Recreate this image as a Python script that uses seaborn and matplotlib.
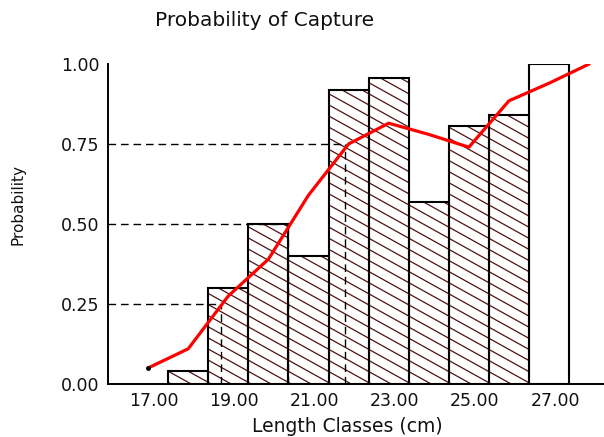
import numpy as np
import matplotlib
matplotlib.use("Agg")
import matplotlib.pyplot as plt
import matplotlib.hatch as mhatch
from matplotlib.path import Path
from matplotlib.ticker import FixedLocator, FormatStrFormatter
from matplotlib.transforms import ScaledTranslation
import seaborn as sns

# Observed proportion retained per 1 cm length class
length_classes = [18, 19, 20, 21, 22, 23, 24, 25, 26, 27]
observed = [0.04, 0.30, 0.50, 0.40, 0.92, 0.955, 0.57, 0.805, 0.84, 1.00]
open_class = 27  # class drawn without hatching

# Fitted probability-of-capture curve
curve_lengths = [17, 18, 19, 20, 21, 22, 23, 24, 25, 26, 27, 28]
curve_prob = [0.05, 0.11, 0.275, 0.39, 0.59, 0.75, 0.815, 0.78, 0.74, 0.885, 0.94, 1.00]

# Retention lengths L25, L50, L75
ret_levels = [0.25, 0.50, 0.75]
ret_lengths = [18.83, 20.50, 21.92]

x_ticks = [17, 19, 21, 23, 25, 27]
y_ticks = [0.00, 0.25, 0.50, 0.75, 1.00]

X_MIN, X_MAX = 16.0, 28.37
HATCH_COLOR = "#4e1414"


class ShallowSouthEastHatch(mhatch.HatchPatternBase):
    """Back-slash hatch drawn at a shallow slope (rise/run = 5/9)."""
    rise, per_unit = 5, 9

    def __init__(self, hatch, density):
        n = hatch.count("\\") + hatch.count("x") + hatch.count("X")
        self.num_lines = (self.per_unit + self.rise + 1) if n else 0
        self.num_vertices = self.num_lines * 2

    def set_vertices_and_codes(self, vertices, codes):
        b = np.arange(self.num_lines) / self.per_unit
        vertices[0::2, 0] = 0.0
        vertices[0::2, 1] = b
        vertices[1::2, 0] = 1.0
        vertices[1::2, 1] = b - self.rise / self.per_unit
        codes[0::2] = Path.MOVETO
        codes[1::2] = Path.LINETO


mhatch._hatch_types[mhatch._hatch_types.index(mhatch.SouthEastHatch)] = ShallowSouthEastHatch

sns.set_style("white")
plt.rcParams["font.family"] = ["DejaVu Sans"]
plt.rcParams["hatch.linewidth"] = 0.9

fig = plt.figure(figsize=(6.04, 4.37), dpi=100)
ax = fig.add_axes([108 / 604, 53 / 437, (604 - 108) / 604, 320 / 437])

# hatched fill layer
sns.barplot(x=length_classes, y=observed, native_scale=True, width=1,
            color="white", saturation=1, edgecolor=HATCH_COLOR, linewidth=0,
            hatch="\\", errorbar=None, ax=ax, zorder=1)
for patch in ax.patches:
    if abs(patch.get_x() + patch.get_width() / 2 - open_class) < 0.01:
        patch.set_hatch(None)

# bar outlines
sns.barplot(x=length_classes, y=observed, native_scale=True, width=1,
            color="black", fill=False, linewidth=1.5, errorbar=None, ax=ax,
            zorder=2)

# retention length guides
dash = (0, (5.5, 3.5))
ax.hlines(ret_levels, xmin=X_MIN, xmax=ret_lengths, colors="black",
          linestyles=dash, linewidth=1.0, zorder=2.5)
ax.vlines(ret_lengths, ymin=0, ymax=ret_levels, colors="black",
          linestyles=dash, linewidth=1.0, zorder=2.5)

# fitted curve
sns.lineplot(x=curve_lengths, y=curve_prob, color="red", linewidth=2.3,
             ax=ax, zorder=3)
ax.plot(curve_lengths[:1], curve_prob[:1], "o", color="black", ms=2.5, zorder=3.5)

ax.set_xlim(X_MIN, X_MAX)
ax.set_ylim(0, 1.0)
ax.xaxis.set_major_locator(FixedLocator(x_ticks))
ax.yaxis.set_major_locator(FixedLocator(y_ticks))
ax.xaxis.set_major_formatter(FormatStrFormatter("%.2f"))
ax.yaxis.set_major_formatter(FormatStrFormatter("%.2f"))
ax.tick_params(axis="both", direction="in", length=3, width=1.1,
               colors="black", labelsize=12.5, labelcolor="#111111")
ax.tick_params(axis="x", pad=6)
ax.tick_params(axis="y", pad=6)
for lab in ax.get_xticklabels():
    lab.set_transform(lab.get_transform() + ScaledTranslation(6 / 100, 0, fig.dpi_scale_trans))

for side in ("top", "right"):
    ax.spines[side].set_visible(False)
for side in ("left", "bottom"):
    ax.spines[side].set_linewidth(1.4)
    ax.spines[side].set_color("black")

ax.set_xlabel("")
ax.set_ylabel("")
fig.text(347 / 604, 1 - 427 / 437, "Length Classes (cm)", ha="center",
         va="center", fontsize=13.5, color="#111111")
fig.text(18 / 604, 1 - 204 / 437, "Probability", rotation=90, ha="center",
         va="center", fontsize=11, color="#111111")
fig.text(265 / 604, 1 - 21 / 437, "Probability of Capture", ha="center",
         va="center", fontsize=14.5, color="#111111")

fig.savefig("out.png", dpi=100)
